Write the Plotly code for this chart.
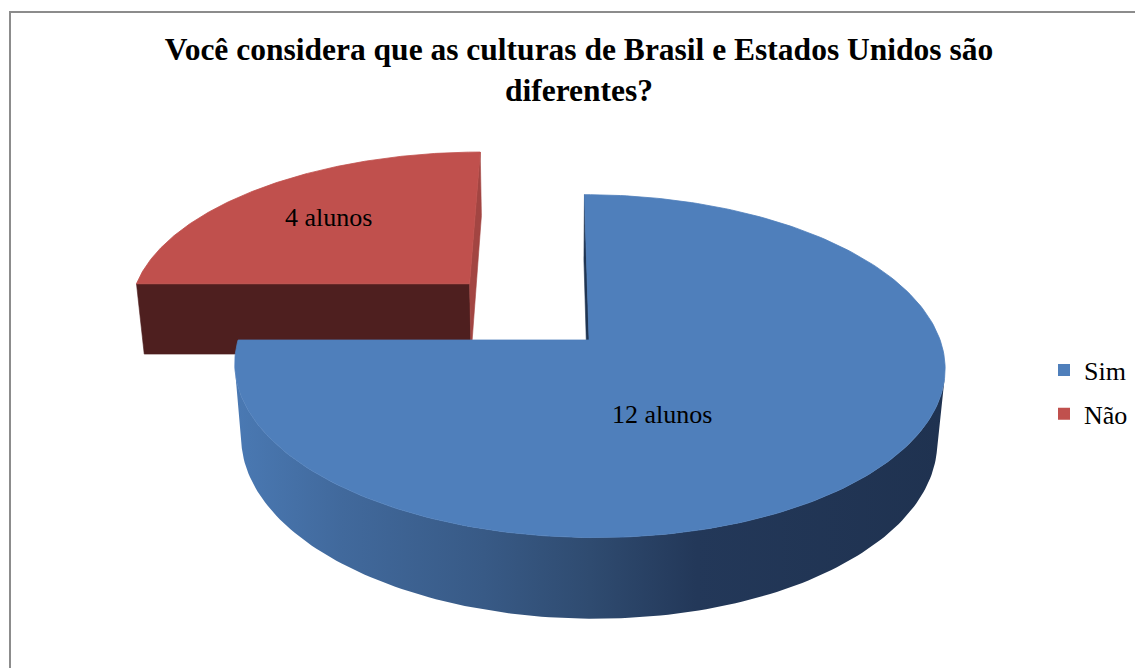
import numpy as np
import plotly.graph_objects as go

# Survey answers
categories = ["Sim", "Não"]
counts = [12, 4]
label_suffix = " alunos"
title_text = "<b>Você considera que as culturas de Brasil e Estados Unidos são<br>diferentes?</b>"

# Per-slice styling
top_colors = ["#4F7FBB", "#C0504D"]
start_face_colors = ["#203552", "#4E1F1F"]
end_face_colors = ["#203552", "#A24542"]
side_scales = [
    [[0.0, "#4A79B3"], [0.15, "#41699C"], [0.35, "#385A86"], [0.5, "#2F4B70"],
     [0.65, "#233859"], [1.0, "#1F3250"]],
    [[0.0, "#8E3A38"], [1.0, "#5A2321"]],
]
explode = [0.0, 0.5]
# label anchor per slice: (angle in degrees, radius) from the slice's own centre
label_polar = [(-65.5, 0.456), (135.0, 0.663)]

FONT = "Liberation Serif, Times New Roman, serif"
W, H = 1135, 668

# 3D pie camera (perspective view from the front, above the disc)
ELEV = np.radians(28.5)
SIN_E, COS_E = np.sin(ELEV), np.cos(ELEV)
DIST = 5.77
CAM_X = -0.1
DEPTH = 0.241
CAMERA = np.array([CAM_X, -DIST * COS_E, DIST * SIN_E])

# screen placement of the disc centre and scale (pixels per unit radius)
CX, CY, K = 554.0, 340.0, 351.0


def project(X, Y, Z):
    X, Y, Z = (np.asarray(a, dtype=float) for a in (X, Y, Z))
    v = Y * SIN_E + Z * COS_E
    q = Y * COS_E - Z * SIN_E
    f = DIST / (DIST + q)
    return (X - CAM_X) * f, v * f


def faces_camera(normal, point):
    return float(np.dot(normal, CAMERA - point)) > 0


def polygon(X, Y, Z, **kw):
    u, v = project(X, Y, Z)
    return go.Scatter(x=np.append(u, u[0]), y=np.append(v, v[0]), mode="lines",
                      fill="toself", hoverinfo="skip", showlegend=False, **kw)


total = sum(counts)
slices = []
start = 90.0
for i, c in enumerate(counts):
    sweep = 360.0 * c / total
    a0, a1 = start, start - sweep
    mid = np.radians((a0 + a1) / 2)
    ox, oy = explode[i] * np.cos(mid), explode[i] * np.sin(mid)
    slices.append(dict(i=i, a0=a0, a1=a1, ox=ox, oy=oy))
    start = a1

# paint the slices furthest from the viewer first
slices.sort(key=lambda s: -(s["oy"] * COS_E))

fig = go.Figure()
annotations = []
for s in slices:
    i, a0, a1, ox, oy = s["i"], s["a0"], s["a1"], s["ox"], s["oy"]
    th = np.radians(np.linspace(a0, a1, 240))
    rx, ry = ox + np.cos(th), oy + np.sin(th)

    # curved outer wall, only the part turned towards the camera
    vis = np.array([faces_camera(np.array([np.cos(t), np.sin(t), 0.0]),
                                 np.array([x, y, -DEPTH / 2]))
                    for t, x, y in zip(th, rx, ry)])
    if vis.sum() > 1:
        sx, sy = rx[vis], ry[vis]
        X = np.concatenate([sx, sx[::-1]])
        Y = np.concatenate([sy, sy[::-1]])
        Z = np.concatenate([np.zeros(len(sx)), np.full(len(sx), -DEPTH)])
        fig.add_trace(polygon(X, Y, Z, line=dict(width=0),
                              fillgradient=dict(type="horizontal", colorscale=side_scales[i])))

    # flat radial walls at both ends of the slice
    for ang, nang, col in ((a0, a0 + 90, start_face_colors[i]), (a1, a1 - 90, end_face_colors[i])):
        t = np.radians(ang)
        n = np.array([np.cos(np.radians(nang)), np.sin(np.radians(nang)), 0.0])
        px, py = ox + np.cos(t), oy + np.sin(t)
        centre = np.array([(ox + px) / 2, (oy + py) / 2, -DEPTH / 2])
        if faces_camera(n, centre):
            fig.add_trace(polygon([ox, px, px, ox], [oy, py, py, oy], [0, 0, -DEPTH, -DEPTH],
                                  fillcolor=col, line=dict(width=0.6, color=col)))

    # top face
    X = np.concatenate([[ox], rx])
    Y = np.concatenate([[oy], ry])
    fig.add_trace(polygon(X, Y, np.zeros(len(X)), fillcolor=top_colors[i],
                          line=dict(width=0.8, color=top_colors[i])))

    # value label on the top face
    la, lr = label_polar[i]
    lu, lv = project(ox + lr * np.cos(np.radians(la)), oy + lr * np.sin(np.radians(la)), 0.0)
    annotations.append(dict(x=float(lu), y=float(lv), xref="x", yref="y",
                            text=f"{counts[i]}{label_suffix}", showarrow=False,
                            font=dict(family=FONT, size=26, color="#000000")))

# legend entries
for i, name in enumerate(categories):
    fig.add_trace(go.Scatter(x=[None], y=[None], mode="markers", name=name,
                             legendgroup=name,
                             marker=dict(symbol="square", size=14, color=top_colors[i])))

fig.update_layout(
    width=W, height=H,
    margin=dict(l=0, r=0, t=0, b=0),
    paper_bgcolor="#FFFFFF", plot_bgcolor="#FFFFFF",
    xaxis=dict(range=[-CX / K, (W - CX) / K], visible=False, fixedrange=True),
    yaxis=dict(range=[(CY - H) / K, CY / K], visible=False, fixedrange=True),
    title=dict(text=title_text, x=579 / W, xanchor="center", y=1 - 60 / H, yanchor="middle",
               font=dict(family=FONT, size=31.5, color="#000000")),
    legend=dict(x=1044 / W, xanchor="left", y=1 - 392 / H, yanchor="middle",
                font=dict(family=FONT, size=26, color="#000000"),
                tracegroupgap=7, itemsizing="constant", bgcolor="rgba(0,0,0,0)"),
    annotations=annotations,
    shapes=[dict(type="rect", xref="paper", yref="paper",
                 x0=10 / W, y0=1 - 12 / H, x1=1.02, y1=-0.02,
                 line=dict(color="#8C8C8C", width=2), fillcolor="rgba(0,0,0,0)")],
)

fig.write_html("out.html")
